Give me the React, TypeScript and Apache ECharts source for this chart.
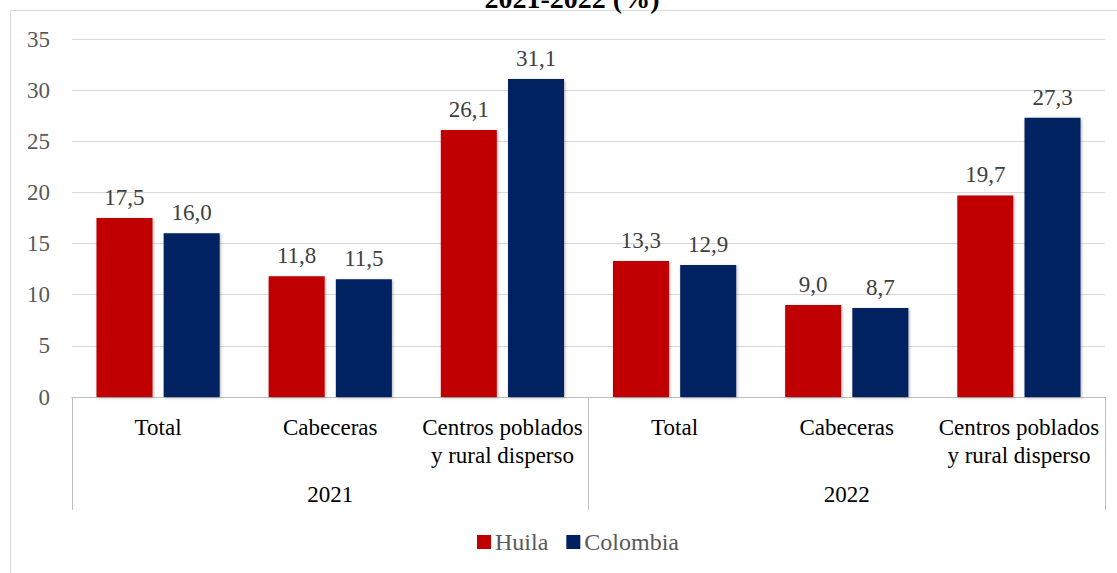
import React, { useEffect, useRef } from "react";
import * as echarts from "echarts";

const categories = [
  "Total",
  "Cabeceras",
  "Centros poblados\ny rural disperso",
  "Total",
  "Cabeceras",
  "Centros poblados\ny rural disperso",
];
const groups = ["2021", "2022"];
const huila = [17.5, 11.8, 26.1, 13.3, 9.0, 19.7];
const colombia = [16.0, 11.5, 31.1, 12.9, 8.7, 27.3];
const yTicks = { min: 0, max: 35, interval: 5 };
const titleText = "2021-2022 (%)";

const FONT = "Liberation Serif, Times New Roman, serif";

export default function App() {
  const ref = useRef<HTMLDivElement>(null);
  useEffect(() => {
    if (!ref.current) return;
    const chart = echarts.init(ref.current, undefined, { renderer: "svg" });
    const fmt = (p: any) => Number(p.value).toFixed(1).replace(".", ",");
    const shadow = { shadowColor: "rgba(0,0,0,0.3)", shadowBlur: 3, shadowOffsetX: 1, shadowOffsetY: 1 };
    const labelCfg = {
      show: true,
      position: "top",
      distance: 9,
      formatter: fmt,
      fontFamily: FONT,
      fontSize: 23,
      color: "#404040",
    };
    chart.setOption({
      animation: false,
      graphic: [
        {
          type: "rect",
          shape: { x: 10.5, y: 10.5, width: 1130, height: 600 },
          style: { fill: "none", stroke: "#d9d9d9", lineWidth: 1 },
          silent: true,
          z: -10,
        },
        {
          type: "text",
          x: 572,
          y: 12,
          style: {
            text: titleText,
            fontFamily: FONT,
            fontSize: 28,
            fontWeight: "bold",
            fill: "#000",
            align: "center",
            verticalAlign: "bottom",
          },
        },
      ],
      grid: { left: 72, right: 12, top: 39, bottom: 176 },
      legend: {
        bottom: 14,
        left: 472,
        itemWidth: 14,
        itemHeight: 14,
        itemGap: 18,
        icon: "rect",
        textStyle: { fontFamily: FONT, fontSize: 24, color: "#595959", padding: [0, 0, 0, -1] },
        data: ["Huila", "Colombia"],
      },
      xAxis: [
        {
          type: "category",
          data: categories,
          position: "bottom",
          axisLine: { lineStyle: { color: "#bfbfbf" } },
          axisTick: { show: false },
          axisLabel: { interval: 0, margin: 16, fontFamily: FONT, fontSize: 23, color: "#000", lineHeight: 28 },
        },
        {
          type: "category",
          data: groups,
          position: "bottom",
          axisLine: { lineStyle: { color: "#bfbfbf" } },
          axisTick: { show: true, length: 113, lineStyle: { color: "#bfbfbf" } },
          axisLabel: { interval: 0, margin: 86, fontFamily: FONT, fontSize: 23, color: "#000" },
        },
      ],
      yAxis: {
        type: "value",
        min: yTicks.min,
        max: yTicks.max,
        interval: yTicks.interval,
        axisLine: { show: false },
        axisTick: { show: false },
        splitLine: { lineStyle: { color: "#d9d9d9", width: 1 } },
        axisLabel: { margin: 22, fontFamily: FONT, fontSize: 23, color: "#595959" },
      },
      series: [
        {
          name: "Huila",
          type: "bar",
          data: huila,
          barWidth: 56,
          barGap: "20%",
          itemStyle: { color: "#c00000", ...shadow },
          label: labelCfg,
        },
        {
          name: "Colombia",
          type: "bar",
          data: colombia,
          barWidth: 56,
          barGap: "20%",
          itemStyle: { color: "#002060", ...shadow },
          label: labelCfg,
        },
      ],
    });
    return () => chart.dispose();
  }, []);
  return (
    <div
      ref={ref}
      style={{ position: "fixed", left: 0, top: 0, width: 1117, height: 573, background: "#fff" }}
    />
  );
}
